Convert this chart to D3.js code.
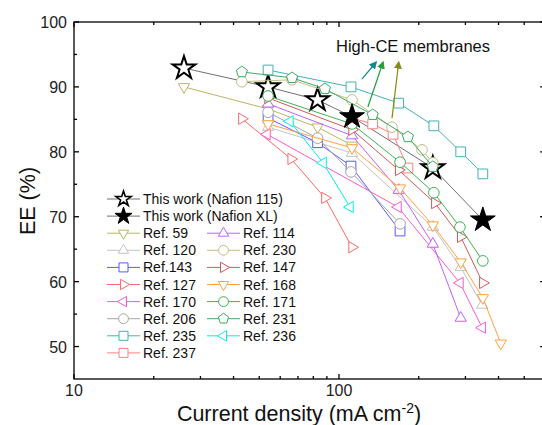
<!DOCTYPE html>
<html><head><meta charset="utf-8">
<script src="https://cdn.jsdelivr.net/npm/d3@7"></script>
<style>body{margin:0;background:#fff;}svg{display:block;}text{font-family:Arial,"Liberation Sans",sans-serif;}</style>
</head><body>
<svg id="c" width="542" height="425"></svg>
<script>
// ---------- data ----------
const nafion115 = [[26,92.9],[54,90.0],[83,88.0],[226,77.5]];
const nafionXL  = [[112,85.4],[349,69.5]];
const ref59  = [[26,90.0],[54,86.6],[83,83.8],[112,81.0]];
const ref120 = [[54,83.8],[112,79.8],[226,68.4],[288,62.2],[347,56.4]];
const ref143 = [[54,85.2],[83,81.4],[111,77.8],[170,67.8]];
const ref127 = [[43,85.1],[66,78.9],[88.5,72.9],[112,65.3]];
const ref170 = [[53.5,82.7],[167,71.5],[286,59.8],[347,52.9]];
const ref206 = [[54,86.1],[83,82.1],[111,76.9],[170,68.9]];
const ref235 = [[54,92.6],[111,90.0],[168,87.5],[228,84.0],[288,80.0],[349,76.6]];
const ref237 = [[112,85.2],[134,84.3],[160,82.7],[182,77.5]];
const ref114 = [[54,87.4],[112,82.5],[168,74.1],[226,65.8],[288,54.4]];
const ref230 = [[43,90.8],[66.5,91.1],[112,88.0],[158.5,83.8],[205.7,80.3],[226,78.3]];
const ref147 = [[54,88.3],[112,83.4],[168,77.2],[230,72.1],[288,66.9],[349,59.8]];
const ref168 = [[54,84.3],[112,80.6],[170,74.4],[226,68.7],[288,63.0],[349,57.5],[408,50.5]];
const ref171 = [[54,88.6],[112,84.3],[170,78.4],[228,73.7],[286,68.4],[349,63.2]];
const ref231 = [[43,92.3],[66.5,91.4],[88.5,89.7],[134,85.7],[182,82.3],[226,77.7]];
const ref236 = [[65.3,84.7],[87.1,78.3],[110,71.5]];

const xMajorTicks = [10, 100];
const xMinorTicks = [20,30,40,50,60,70,80,90,200,300,400,500];
const yMajorTicks = [50,60,70,80,90,100];
const yMinorTicks = [55,65,75,85,95];

const refSeries = [
  {name:"Ref. 59",  data:ref59,  color:"#b8b862", shape:"tdown", col:0, row:2},
  {name:"Ref. 120", data:ref120, color:"#c4c4c4", shape:"tup",   col:0, row:3},
  {name:"Ref.143",  data:ref143, color:"#5a5aff", shape:"square",col:0, row:4},
  {name:"Ref. 127", data:ref127, color:"#ff6a6a", shape:"tright",col:0, row:5},
  {name:"Ref. 170", data:ref170, color:"#ff5ac8", shape:"tleft", col:0, row:6},
  {name:"Ref. 206", data:ref206, color:"#a6a6a6", shape:"circle",col:0, row:7},
  {name:"Ref. 235", data:ref235, color:"#40b4b4", shape:"square",col:0, row:8},
  {name:"Ref. 237", data:ref237, color:"#ff8080", shape:"square",col:0, row:9},
  {name:"Ref. 114", data:ref114, color:"#c060ff", shape:"tup",   col:1, row:2},
  {name:"Ref. 230", data:ref230, color:"#c2c080", shape:"circle",col:1, row:3},
  {name:"Ref. 147", data:ref147, color:"#d05a5a", shape:"tright",col:1, row:4},
  {name:"Ref. 168", data:ref168, color:"#ffa040", shape:"tdown", col:1, row:5},
  {name:"Ref. 171", data:ref171, color:"#3cb454", shape:"circle",col:1, row:6},
  {name:"Ref. 231", data:ref231, color:"#3caa64", shape:"pent",  col:1, row:7},
  {name:"Ref. 236", data:ref236, color:"#00f0f0", shape:"tleft", col:1, row:8}
];

// annotation arrows [from, to] in data units
const arrows = [
  {from:[122,91.2], to:[138,93.8], color:"#108c8c"},
  {from:[128.5,86.9], to:[146.6,93.8], color:"#20a040"},
  {from:[158.5,85.2], to:[168,93.8], color:"#8a8a10"}
];

// ---------- layout ----------
const svg = d3.select("#c");
const x = d3.scaleLog().domain([10, 600]).range([74, 545.2]);
const y = d3.scaleLinear().domain([45, 100]).range([379, 22]);

function markerPath(shape, r){
  const c = Math.cos(Math.PI/6);
  switch(shape){
    case "tup": return `M0,${-r}L${r*c},${r/2}L${-r*c},${r/2}Z`;
    case "tdown": return `M0,${r}L${r*c},${-r/2}L${-r*c},${-r/2}Z`;
    case "tright": return `M${r},0L${-r/2},${-r*c}L${-r/2},${r*c}Z`;
    case "tleft": return `M${-r},0L${r/2},${-r*c}L${r/2},${r*c}Z`;
    case "square": { const s=r*0.75; return `M${-s},${-s}H${s}V${s}H${-s}Z`; }
    case "circle": { const s=r*0.82; return `M${s},0A${s},${s} 0 1,1 ${-s},0A${s},${s} 0 1,1 ${s},0Z`; }
    case "pent": { let p=""; for(let i=0;i<5;i++){const a=-Math.PI/2+i*2*Math.PI/5; p+=(i?"L":"M")+(r*0.9*Math.cos(a))+","+(r*0.9*Math.sin(a));} return p+"Z"; }
    case "star": { let p=""; const ri=r*0.382; for(let i=0;i<10;i++){const a=-Math.PI/2+i*Math.PI/5; const rr=i%2?ri:r; p+=(i?"L":"M")+(rr*Math.cos(a))+","+(rr*Math.sin(a));} return p+"Z"; }
  }
}

const plot = svg.append("g");
const line = d3.line().x(d=>x(d[0])).y(d=>y(d[1]));

// This work line (both membranes connected)
const thisWork = nafion115.concat(nafionXL).sort((a,b)=>a[0]-b[0]);
plot.append("path").attr("d", line(thisWork)).attr("fill","none").attr("stroke","#707070").attr("stroke-width",1);
plot.selectAll(".s115").data(nafion115).enter().append("path")
  .attr("transform", d=>`translate(${x(d[0])},${y(d[1])})`)
  .attr("d", markerPath("star",12)).attr("fill","#fff").attr("stroke","#000").attr("stroke-width",2);

// reference series
refSeries.forEach(s=>{
  const g = plot.append("g");
  g.append("path").attr("d", line(s.data)).attr("fill","none").attr("stroke",s.color).attr("stroke-width",1);
  g.selectAll("path.m").data(s.data).enter().append("path").attr("class","m")
    .attr("transform", d=>`translate(${x(d[0])},${y(d[1])})`)
    .attr("d", markerPath(s.shape,6.5)).attr("fill","#fff").attr("stroke",s.color).attr("stroke-width",1);
});

plot.selectAll(".sxl").data(nafionXL).enter().append("path")
  .attr("transform", d=>`translate(${x(d[0])},${y(d[1])})`)
  .attr("d", markerPath("star",13)).attr("fill","#000").attr("stroke","#000").attr("stroke-width",1);

// arrows
const defs = svg.append("defs");
arrows.forEach((a,i)=>{
  defs.append("marker").attr("id","ah"+i).attr("viewBox","0 0 10 10").attr("refX",8).attr("refY",5)
    .attr("markerWidth",8).attr("markerHeight",8).attr("orient","auto").attr("markerUnits","userSpaceOnUse")
    .append("path").attr("d","M0,0L10,5L0,10Z").attr("fill",a.color);
  plot.append("line").attr("x1",x(a.from[0])).attr("y1",y(a.from[1])).attr("x2",x(a.to[0])).attr("y2",y(a.to[1]))
    .attr("stroke",a.color).attr("stroke-width",1.2).attr("marker-end",`url(#ah${i})`);
});
svg.append("text").attr("x",413).attr("y",52).attr("text-anchor","middle").attr("font-size",16.5).attr("fill","#111")
  .text("High-CE membranes");

// ---------- axes ----------
const ax = svg.append("g").attr("stroke","#000").attr("stroke-width",1.3);
const L=74, R=x(600), T=22, B=379;
ax.append("rect").attr("x",L).attr("y",T).attr("width",R-L).attr("height",B-T).attr("fill","none");
xMajorTicks.forEach(t=>{ const px=x(t);
  ax.append("line").attr("x1",px).attr("x2",px).attr("y1",B).attr("y2",B-5);
  ax.append("line").attr("x1",px).attr("x2",px).attr("y1",T).attr("y2",T+5);
});
xMinorTicks.forEach(t=>{ const px=x(t);
  ax.append("line").attr("x1",px).attr("x2",px).attr("y1",B).attr("y2",B-3);
  ax.append("line").attr("x1",px).attr("x2",px).attr("y1",T).attr("y2",T+3);
});
yMajorTicks.forEach(t=>{ const py=y(t);
  ax.append("line").attr("x1",L).attr("x2",L+5).attr("y1",py).attr("y2",py);
  ax.append("line").attr("x1",R).attr("x2",R-5).attr("y1",py).attr("y2",py);
});
yMinorTicks.forEach(t=>{ const py=y(t);
  ax.append("line").attr("x1",L).attr("x2",L+3).attr("y1",py).attr("y2",py);
  ax.append("line").attr("x1",R).attr("x2",R-3).attr("y1",py).attr("y2",py);
});
xMajorTicks.forEach(t=>{
  svg.append("text").attr("x",x(t)).attr("y",396).attr("text-anchor","middle").attr("font-size",16).attr("fill","#222").text(t);
});
yMajorTicks.forEach(t=>{
  svg.append("text").attr("x",67).attr("y",y(t)+6).attr("text-anchor","end").attr("font-size",16).attr("fill","#222").text(t);
});
const xt = svg.append("text").attr("x",299).attr("y",421).attr("text-anchor","middle").attr("font-size",21.5).attr("fill","#111");
xt.append("tspan").text("Current density (mA cm");
xt.append("tspan").attr("dy",-8).attr("font-size",14).text("-2");
xt.append("tspan").attr("dy",8).text(")");
svg.append("text").attr("transform","translate(35,201) rotate(-90)").attr("text-anchor","middle").attr("font-size",21.5).attr("fill","#111").text("EE (%)");

// ---------- legend ----------
const lg = svg.append("g");
const rowY = r => 199 + r*17.1;
const colX = [107, 207];
function legendItem(cx, cy, color, lineColor, shape, r, fill, sw, label){
  lg.append("line").attr("x1",cx).attr("x2",cx+33).attr("y1",cy).attr("y2",cy).attr("stroke",lineColor).attr("stroke-width",1);
  lg.append("path").attr("transform",`translate(${cx+16.5},${cy})`).attr("d",markerPath(shape,r))
    .attr("fill",fill).attr("stroke",color).attr("stroke-width",sw);
  lg.append("text").attr("x",cx+36).attr("y",cy+5).attr("font-size",14).attr("fill","#111").text(label);
}
legendItem(colX[0], rowY(0), "#000", "#707070", "star", 8, "#fff", 1.6, "This work (Nafion 115)");
legendItem(colX[0], rowY(1), "#000", "#707070", "star", 9, "#000", 1, "This work (Nafion XL)");
refSeries.forEach(s=>{
  legendItem(colX[s.col], rowY(s.row), s.color, s.color, s.shape, 6, "#fff", 1, s.name);
});
</script>
</body></html>
